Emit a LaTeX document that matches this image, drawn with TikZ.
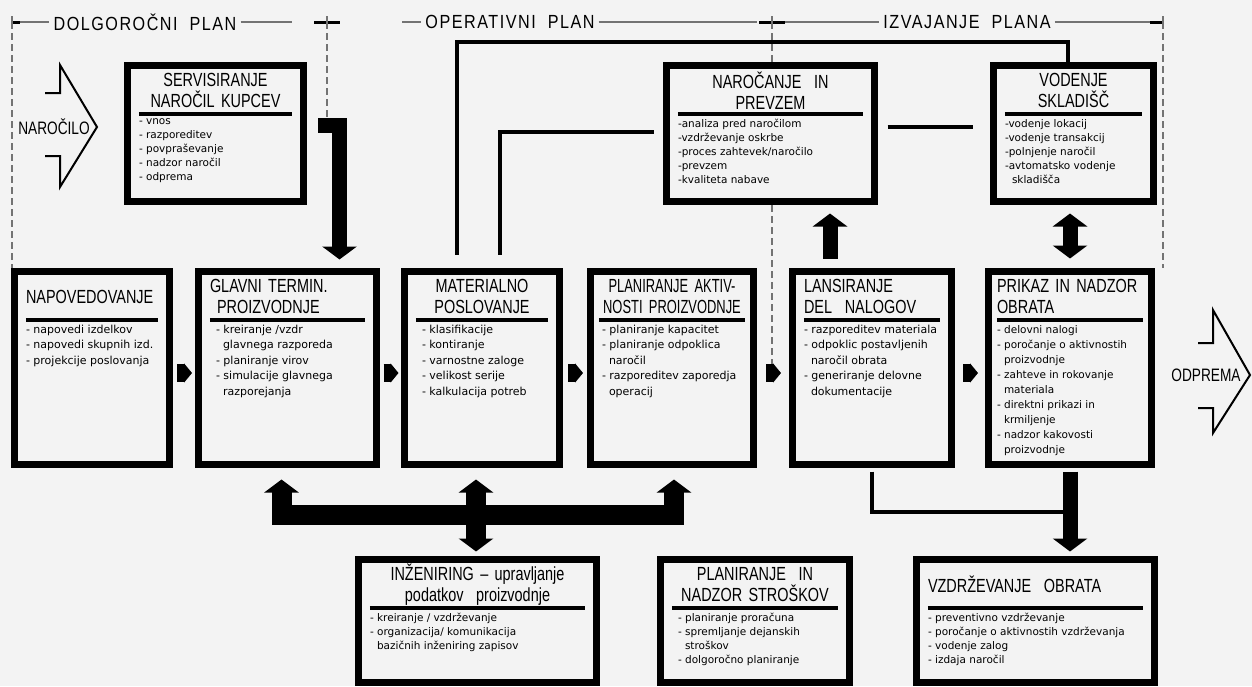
\documentclass[tikz,border=0pt]{standalone}
\usepackage{fontspec}
\setmainfont{Liberation Sans}
\newfontfamily\ttlfont{Liberation Sans}[FakeStretch=0.76]
\newfontfamily\narrowfont{Liberation Sans}[FakeStretch=0.68]
\newfontfamily\hdrfont{Liberation Sans}[FakeStretch=0.85,LetterSpace=8]
\newfontfamily\itmfont{DejaVu Sans}
\usetikzlibrary{arrows.meta,positioning,calc}
\definecolor{paper}{HTML}{F3F3F3}
\newcommand{\indn}{\hspace*{7pt}}

\begin{document}
\begin{tikzpicture}[x=1pt, y=-1pt,
  panel/.style={draw=black, line width=7pt, fill=paper, inner sep=0pt},
  ttl/.style={font=\ttlfont\fontsize{19}{21}\selectfont, align=center, inner sep=0pt,
              minimum height=42pt, anchor=north},
  itm/.style={font=\itmfont\fontsize{10.5}{14}\selectfont, align=left, inner sep=0pt,
              anchor=north west},
  itmwide/.style={itm, font=\itmfont\fontsize{11}{15.5}\selectfont},
  titlerule/.style={line width=3.5pt},
  hdr/.style={font=\hdrfont\fontsize{19}{19}\selectfont, inner sep=4pt},
  hline/.style={draw=black!55, line width=1.2pt},
  hmark/.style={line width=3pt},
  guide/.style={draw=black!55, line width=1.2pt, dash pattern=on 7pt off 4pt},
  wire/.style={line width=4pt},
  fat/.style={line width=15pt},
  bus/.style={line width=20pt},
  flow/.style={line width=18pt, -{Triangle[width=19pt,length=8pt]}},
  onehead/.style={-{Triangle[width=34pt,length=13pt]}},
  twohead/.style={{Triangle[width=34pt,length=13pt]}-{Triangle[width=34pt,length=13pt]}},
  openarrow/.style={line width=2pt, line join=miter},
  sign/.style={font=\ttlfont\fontsize{18}{18}\selectfont, inner sep=1pt}
]
\fill[paper] (0,0) rectangle (1252,686);
\useasboundingbox (0,0) rectangle (1252,686);

% header
\coordinate (m0) at (12,22);
\coordinate (m1) at (327,22);
\coordinate (m2) at (772,22);
\coordinate (m3) at (1163,22);
\node[hdr] (dolg) at (145,22) {DOLGOROČNI\ \ PLAN};
\node[hdr] (oper) at (510,22) {OPERATIVNI\ \ PLAN};
\node[hdr] (izv) at (967,22) {IZVAJANJE\ \ PLANA};
\draw[hline] (m0) -- (dolg.west);
\draw[hline, shorten >=35pt] (dolg.east) -- (m1);
\draw[hline, shorten <=75pt] (m1) -- (oper.west);
\draw[hline, shorten >=15pt] (oper.east) -- (m2);
\draw[hline] (m2) -- (izv.west);
\draw[hline] (izv.east) -- (m3);
\draw[hmark] (m0) -- ([xshift=8pt]m0);
\draw[hmark] ([xshift=-13pt]m1) -- ([xshift=13pt]m1);
\draw[hmark] ([xshift=-13pt]m2) -- ([xshift=13pt]m2);
\draw[hmark] ([xshift=-13pt]m3) -- (m3);
\foreach \m in {m0,m1,m2,m3}
  \draw[hline] ([yshift=-6pt]\m) -- ([yshift=6pt]\m);

% boxes
\node[panel, minimum width=176pt, minimum height=136pt] (serv) at (215.5,133.5) {};
\node[panel, minimum width=208pt, minimum height=136pt] (naroc) at (770.5,133.5) {};
\node[panel, minimum width=160pt, minimum height=136pt] (vod) at (1073.5,133.5) {};
\node[panel, minimum width=155pt, minimum height=193pt] (napov) at (92,368) {};
\node[panel, minimum width=178pt, minimum height=193pt] (glavni) at (287.5,368) {};
\node[panel, minimum width=155pt, minimum height=193pt] (mat) at (482,368) {};
\node[panel, minimum width=163pt, minimum height=193pt] (plan) at (672,368) {};
\node[panel, minimum width=159pt, minimum height=193pt] (lans) at (872,368) {};
\node[panel, minimum width=163pt, minimum height=193pt] (prikaz) at (1070,368) {};
\node[panel, minimum width=238pt, minimum height=123pt] (inz) at (477.5,621) {};
\node[panel, minimum width=189pt, minimum height=123pt] (stros) at (755,621) {};
\node[panel, minimum width=238pt, minimum height=123pt] (vzdr) at (1035.5,621) {};

% guides and wires
\coordinate (hook) at (318,125.5);
\coordinate (ktop) at (457,42);
\coordinate (kmid) at (500,132);
\coordinate (k4) at (1063,512);
\draw[guide] (m0) -- (m0 |- napov.north);
\draw[guide] (m1) -- (m1 |- hook);
\draw[guide] (m2) -- (m2 |- naroc.north);
\draw[guide] (m2 |- naroc.south) -- (m2 |- plan.east);
\draw[guide] (m3) -- (m3 |- prikaz.north);
\draw[wire, shorten <=13.5pt] ([xshift=-25pt]mat.north) -- (ktop) -| ([xshift=-5.5pt]vod.north);
\draw[wire, shorten <=13.5pt, shorten >=9.5pt] ([xshift=18pt]mat.north) -- (kmid) -- (kmid -| naroc.west);
\draw[wire, shorten <=9.5pt, shorten >=17.5pt] ([yshift=6.5pt]naroc.east) -- ([yshift=6.5pt]vod.west);
\draw[wire, shorten <=3.5pt] (lans.south) |- (k4);

% titles and items
\node[ttl, text width=153pt] (serv-t) at ([yshift=-7.5pt]serv.north) {SERVISIRANJE\\NAROČIL KUPCEV};
\draw[titlerule] ([yshift=-2pt]serv-t.south west) -- ([yshift=-2pt]serv-t.south east);
\node[itm] (serv-i) at ([yshift=-7pt]serv-t.south west)
  {- vnos\\- razporeditev\\- povpraševanje\\- nadzor naročil\\- odprema};

\node[ttl, text width=185pt] (naroc-t) at ([yshift=-7.5pt]naroc.north) {NAROČANJE\ \ IN\\PREVZEM};
\draw[titlerule] ([yshift=-2pt]naroc-t.south west) -- ([yshift=-2pt]naroc-t.south east);
\node[itm] (naroc-i) at ([yshift=-7pt]naroc-t.south west)
  {-analiza pred naročilom\\-vzdrževanje oskrbe\\-proces zahtevek/naročilo\\-prevzem\\-kvaliteta nabave};

\node[ttl, text width=137pt] (vod-t) at ([yshift=-7.5pt]vod.north) {VODENJE\\SKLADIŠČ};
\draw[titlerule] ([yshift=-2pt]vod-t.south west) -- ([yshift=-2pt]vod-t.south east);
\node[itm] (vod-i) at ([yshift=-7pt]vod-t.south west)
  {-vodenje lokacij\\-vodenje transakcij\\-polnjenje naročil\\-avtomatsko vodenje\\\indn skladišča};

\node[ttl, text width=132pt, align=left] (napov-t) at ([yshift=-7.5pt]napov.north) {NAPOVEDOVANJE};
\draw[titlerule] ([yshift=-2pt]napov-t.south west) -- ([yshift=-2pt]napov-t.south east);
\node[itmwide] (napov-i) at ([yshift=-7pt]napov-t.south west)
  {- napovedi izdelkov\\- napovedi skupnih izd.\\- projekcije poslovanja};

\node[ttl, text width=155pt, align=left] (glavni-t) at ([yshift=-7.5pt]glavni.north) {GLAVNI TERMIN.\\\indn PROIZVODNJE};
\draw[titlerule] ([yshift=-2pt]glavni-t.south west) -- ([yshift=-2pt]glavni-t.south east);
\node[itmwide] (glavni-i) at ([shift={(6pt,-7pt)}]glavni-t.south west)
  {- kreiranje /vzdr\\\indn glavnega razporeda\\- planiranje virov\\- simulacije glavnega\\\indn razporejanja};

\node[ttl, text width=132pt] (mat-t) at ([yshift=-7.5pt]mat.north) {MATERIALNO\\POSLOVANJE};
\draw[titlerule] ([yshift=-2pt]mat-t.south west) -- ([yshift=-2pt]mat-t.south east);
\node[itmwide] (mat-i) at ([shift={(6pt,-7pt)}]mat-t.south west)
  {- klasifikacije\\- kontiranje\\- varnostne zaloge\\- velikost serije\\- kalkulacija potreb};

\node[ttl, text width=146pt, font=\narrowfont\fontsize{19}{21}\selectfont] (plan-t) at ([yshift=-7.5pt]plan.north) {PLANIRANJE AKTIV-\\NOSTI PROIZVODNJE};
\draw[titlerule] ([yshift=-2pt]plan-t.south west) -- ([yshift=-2pt]plan-t.south east);
\node[itmwide] (plan-i) at ([shift={(3pt,-7pt)}]plan-t.south west)
  {- planiranje kapacitet\\- planiranje odpoklica\\\indn naročil\\- razporeditev zaporedja\\\indn operacij};

\node[ttl, text width=136pt, align=left] (lans-t) at ([yshift=-7.5pt]lans.north) {LANSIRANJE\\DEL\ \ NALOGOV};
\draw[titlerule] ([yshift=-2pt]lans-t.south west) -- ([yshift=-2pt]lans-t.south east);
\node[itmwide] (lans-i) at ([yshift=-7pt]lans-t.south west)
  {- razporeditev materiala\\- odpoklic postavljenih\\\indn naročil obrata\\- generiranje delovne\\\indn dokumentacije};

\node[ttl, text width=146pt, align=left] (prikaz-t) at ([yshift=-7.5pt]prikaz.north) {PRIKAZ IN NADZOR\\OBRATA};
\draw[titlerule] ([yshift=-2pt]prikaz-t.south west) -- ([yshift=-2pt]prikaz-t.south east);
\node[itm, font=\itmfont\fontsize{10.5}{15}\selectfont] (prikaz-i) at ([yshift=-7pt]prikaz-t.south west)
  {- delovni nalogi\\- poročanje o aktivnostih\\\indn proizvodnje\\- zahteve in rokovanje\\\indn materiala\\- direktni prikazi in\\\indn krmiljenje\\- nadzor kakovosti\\\indn proizvodnje};

\node[ttl, text width=215pt] (inz-t) at ([yshift=-7.5pt]inz.north) {INŽENIRING – upravljanje\\podatkov\ \ proizvodnje};
\draw[titlerule] ([yshift=-2pt]inz-t.south west) -- ([yshift=-2pt]inz-t.south east);
\node[itm] (inz-i) at ([yshift=-7pt]inz-t.south west)
  {- kreiranje / vzdrževanje\\- organizacija/ komunikacija\\\indn bazičnih inženiring zapisov};

\node[ttl, text width=166pt] (stros-t) at ([yshift=-7.5pt]stros.north) {PLANIRANJE\ \ IN\\NADZOR STROŠKOV};
\draw[titlerule] ([yshift=-2pt]stros-t.south west) -- ([yshift=-2pt]stros-t.south east);
\node[itm] (stros-i) at ([shift={(6pt,-7pt)}]stros-t.south west)
  {- planiranje proračuna\\- spremljanje dejanskih\\\indn stroškov\\- dolgoročno planiranje};

\node[ttl, text width=215pt, align=left] (vzdr-t) at ([yshift=-7.5pt]vzdr.north) {VZDRŽEVANJE\ \ OBRATA};
\draw[titlerule] ([yshift=-2pt]vzdr-t.south west) -- ([yshift=-2pt]vzdr-t.south east);
\node[itm] (vzdr-i) at ([yshift=-7pt]vzdr-t.south west)
  {- preventivno vzdrževanje\\- poročanje o aktivnostih vzdrževanja\\- vodenje zalog\\- izdaja naročil};

% in and out
\draw[openarrow] (45,93) -- (60,93) -- (60,65) -- (97,127) -- (60,187) -- (60,156) -- (45,156);
\node[sign] (narocilo) at (54,127) {NAROČILO};
\draw[openarrow] (1198,343) -- (1213,343) -- (1213,310) -- (1250,375) -- (1213,433) -- (1213,408) -- (1198,408);
\node[sign] (odprema) at (1206,375) {ODPREMA};

% flow between boxes
\draw[flow] ($(napov.east)!.5!(glavni.west)+(-7,5)$) -- ++(15,0);
\draw[flow] ($(glavni.east)!.5!(mat.west)+(-7,5)$) -- ++(15,0);
\draw[flow] ($(mat.east)!.5!(plan.west)+(-7,5)$) -- ++(15,0);
\draw[flow] ($(plan.east)!.5!(lans.west)+(-7,5)$) -- ++(15,0);
\draw[flow] ($(lans.east)!.5!(prikaz.west)+(-7,5)$) -- ++(15,0);

% thick arrows
\coordinate (up) at ([xshift=-42pt]lans.north);
\coordinate (gl) at ([xshift=-6pt]glavni.south);
\coordinate (mt) at ([xshift=-6pt]mat.south);
\coordinate (pl) at ([xshift=2pt]plan.south);
\coordinate (busc) at (476,515);
\draw[fat, onehead, shorten >=8.5pt] (hook) -| ([xshift=52pt]glavni.north);
\draw[fat, onehead, shorten <=9.5pt, shorten >=8.5pt] (up) -- (up |- naroc.south);
\draw[fat, twohead, shorten <=9.5pt, shorten >=8.5pt] (prikaz.north) -- (prikaz.north |- vod.south);
\draw[fat, onehead, shorten <=3.5pt, shorten >=4.5pt] (prikaz.south) -- (prikaz.south |- vzdr.north);
\draw[bus, twohead, shorten <=11.5pt, shorten >=11.5pt] (gl) |- (busc) -| (pl);
\draw[bus, twohead, shorten <=11.5pt, shorten >=4.5pt] (mt) -- (mt |- inz.north);
\end{tikzpicture}
\end{document}
